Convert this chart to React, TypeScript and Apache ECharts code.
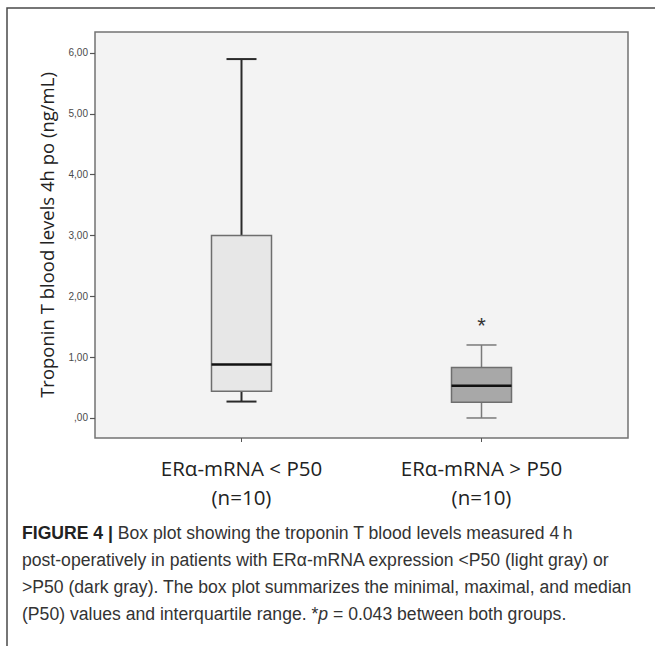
import React, { useEffect, useRef } from "react";
import * as echarts from "echarts";

// ---- data ----
const groupLabels = ["ERα-mRNA < P50", "ERα-mRNA > P50"];
const groupN = ["(n=10)", "(n=10)"];
const whiskerMin = [0.27, 0.0];
const quartile1 = [0.44, 0.26];
const medians = [0.88, 0.53];
const quartile3 = [3.0, 0.83];
const whiskerMax = [5.9, 1.2];
const outliers: [number, number][] = [[1, 1.61]];
const yTicks = [0, 1, 2, 3, 4, 5, 6];
const xPositions = [0, 1];

const captionLines = [
  "post-operatively in patients with ERα-mRNA expression <P50 (light gray) or",
  ">P50 (dark gray). The box plot summarizes the minimal, maximal, and median",
];

// ---- styles ----
const boxFills = ["#e7e7e7", "#a8a8a8"];
const whiskerColors = ["#2a2a2a", "#7a7a7a"];
const whiskerWidths = [2, 1.5];
const LABEL_FONT = "'Open Sans', 'DejaVu Sans', sans-serif";
const CAPTION_FONT = "'Liberation Sans', Arial, sans-serif";
const CAP_SIZE = 17.6;

export default function App() {
  const ref = useRef<HTMLDivElement>(null);

  useEffect(() => {
    if (!ref.current) return;
    const chart = echarts.init(ref.current, null, { renderer: "svg" });

    const boxData = xPositions.map((x, i) => [
      x,
      whiskerMin[i],
      quartile1[i],
      medians[i],
      quartile3[i],
      whiskerMax[i],
    ]);

    const renderBox = (params: any, api: any) => {
      const idx = params.dataIndex;
      const x = api.value(0);
      const cx = api.coord([x, 0])[0];
      const yMin = api.coord([x, api.value(1)])[1];
      const yQ1 = api.coord([x, api.value(2)])[1];
      const yMed = api.coord([x, api.value(3)])[1];
      const yQ3 = api.coord([x, api.value(4)])[1];
      const yMax = api.coord([x, api.value(5)])[1];
      const bw = api.size([0.25, 0])[0];
      const cw = bw / 2;
      const wStyle = { stroke: whiskerColors[idx], lineWidth: whiskerWidths[idx] };
      return {
        type: "group",
        children: [
          { type: "line", shape: { x1: cx, y1: yQ1, x2: cx, y2: yMin }, style: wStyle },
          { type: "line", shape: { x1: cx - cw / 2, y1: yMin, x2: cx + cw / 2, y2: yMin }, style: wStyle },
          { type: "line", shape: { x1: cx, y1: yQ3, x2: cx, y2: yMax }, style: wStyle },
          { type: "line", shape: { x1: cx - cw / 2, y1: yMax, x2: cx + cw / 2, y2: yMax }, style: wStyle },
          {
            type: "rect",
            shape: { x: cx - bw / 2, y: yQ3, width: bw, height: yQ1 - yQ3 },
            style: { fill: boxFills[idx], stroke: "#6e6e6e", lineWidth: 1.5 },
          },
          {
            type: "line",
            shape: { x1: cx - bw / 2, y1: yMed, x2: cx + bw / 2, y2: yMed },
            style: { stroke: "#111", lineWidth: 2.5 },
          },
        ],
      };
    };

    const renderOutlier = (params: any, api: any) => {
      const p = api.coord([api.value(0), api.value(1)]);
      return {
        type: "text",
        x: p[0],
        y: p[1] + 5,
        style: {
          text: "*",
          fontSize: 22,
          fontFamily: CAPTION_FONT,
          fill: "#333",
          align: "center",
          verticalAlign: "middle",
        },
      };
    };

    chart.setOption({
      animation: false,
      backgroundColor: "#ffffff",
      grid: {
        left: 95,
        top: 32,
        right: 27,
        bottom: 208,
        show: true,
        backgroundColor: "#f3f3f3",
        borderColor: "#737373",
        borderWidth: 1.5,
      },
      xAxis: {
        type: "value",
        min: -0.6104,
        max: 1.6104,
        splitLine: { show: false },
        axisLine: { show: false, onZero: false },
        axisTick: {
          show: true,
          customValues: xPositions,
          length: 4,
          lineStyle: { color: "#555", width: 1 },
        },
        axisLabel: {
          customValues: xPositions,
          formatter: (v: number) => {
            const i = Math.round(v);
            return groupLabels[i] + "\n" + groupN[i];
          },
          margin: 15,
          fontSize: 20.5,
          lineHeight: 29,
          color: "#222",
          fontFamily: LABEL_FONT,
          align: "center",
        },
      },
      yAxis: {
        type: "value",
        min: -0.329,
        max: 6.345,
        name: "Troponin T blood levels 4h po (ng/mL)",
        nameLocation: "middle",
        nameRotate: 90,
        nameGap: 39,
        nameTextStyle: { fontSize: 18.5, color: "#222", fontFamily: LABEL_FONT },
        splitLine: { show: false },
        axisLine: { show: false, onZero: false },
        axisTick: {
          show: true,
          customValues: yTicks,
          length: 5,
          lineStyle: { color: "#555", width: 1.2 },
        },
        axisLabel: {
          customValues: yTicks,
          formatter: (v: number) => (v === 0 ? ",00" : v.toFixed(2).replace(".", ",")),
          fontSize: 10,
          color: "#4a4a4a",
          fontFamily: CAPTION_FONT,
          margin: 7,
        },
      },
      series: [
        {
          type: "custom",
          renderItem: renderBox,
          data: boxData,
          encode: { x: 0, y: [1, 2, 3, 4, 5] },
          z: 3,
        },
        {
          type: "custom",
          renderItem: renderOutlier,
          data: outliers,
          encode: { x: 0, y: 1 },
          z: 4,
        },
      ],
      graphic: [
        {
          type: "polyline",
          shape: { points: [[7, 646], [7, 8], [655, 8]] },
          style: { stroke: "#4a4a4a", lineWidth: 1.5, fill: null },
        },
        {
          type: "text",
          left: 22,
          top: 524,
          style: {
            text: "{b|FIGURE 4 |} Box plot showing the troponin T blood levels measured 4\u2009h",
            fontSize: CAP_SIZE,
            fontFamily: CAPTION_FONT,
            fill: "#333",
            rich: {
              b: { fontWeight: "bold", fontSize: CAP_SIZE, fontFamily: CAPTION_FONT, fill: "#222" },
            },
          },
        },
        {
          type: "text",
          left: 22,
          top: 551,
          style: { text: captionLines[0], fontSize: CAP_SIZE, fontFamily: CAPTION_FONT, fill: "#333" },
        },
        {
          type: "text",
          left: 22,
          top: 578,
          style: { text: captionLines[1], fontSize: CAP_SIZE, fontFamily: CAPTION_FONT, fill: "#333" },
        },
        {
          type: "text",
          left: 22,
          top: 605,
          style: {
            text: "(P50) values and interquartile range. *{i|p} = 0.043 between both groups.",
            fontSize: CAP_SIZE,
            fontFamily: CAPTION_FONT,
            fill: "#333",
            rich: {
              i: { fontStyle: "italic", fontSize: CAP_SIZE, fontFamily: CAPTION_FONT, fill: "#333" },
            },
          },
        },
      ],
    });

    return () => chart.dispose();
  }, []);

  return (
    <div
      ref={ref}
      style={{ position: "fixed", left: 0, top: 0, width: 655, height: 646, background: "#fff" }}
    />
  );
}
